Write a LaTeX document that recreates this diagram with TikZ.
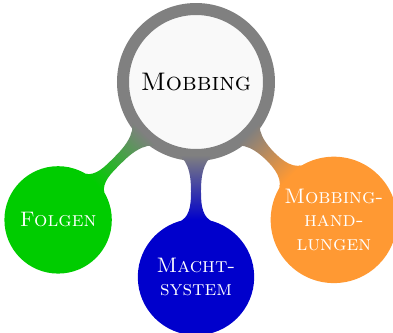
\documentclass[tikz,border=0pt]{standalone}
\usepackage{xcolor}
\usetikzlibrary{mindmap}
\tikzstyle{topic} = [concept, circle, inner sep=0pt, text width=52pt, align=center, font=\fontsize{10.5}{11.7}\selectfont\scshape, text=white]

\begin{document}
\begin{tikzpicture}[mindmap, concept color=gray,
	level 1/.append style={level distance=97.5pt, counterclockwise from=225, sibling angle=45}]
	\useasboundingbox (-98pt,-125.5pt) rectangle (98.5pt,41pt);
	\node (mobbing) [topic, minimum size=73pt, text width=62pt, fill=gray!5, draw=gray, line width=6pt, text=black, font=\fontsize{12.7}{15}\selectfont\scshape] {Mobbing}
		child [concept color=green!80!black] {node (folgen) [topic, minimum size=52.5pt] {Folgen}}
		child [concept color=blue!80!black] {node (macht) [topic, minimum size=57pt] {Macht-\\system}}
		child [concept color=orange!80!white] {node (handlungen) [topic, minimum size=62pt] {Mobbing-\\hand-\\lungen}};
\end{tikzpicture}
\end{document}
